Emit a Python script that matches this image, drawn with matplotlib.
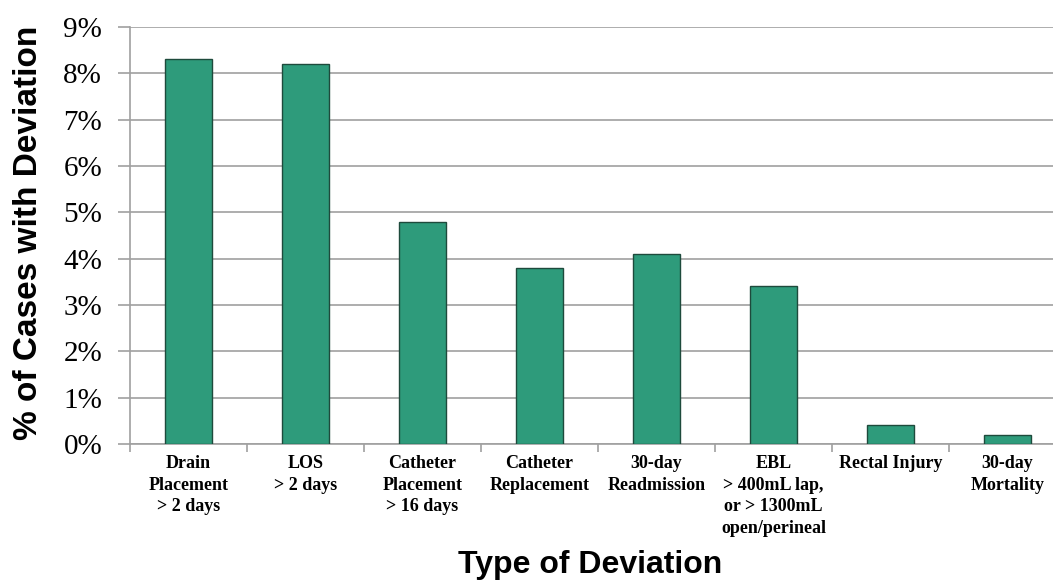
import matplotlib
matplotlib.use("Agg")
import matplotlib.pyplot as plt
from matplotlib.ticker import FuncFormatter

# data
categories = [
    "Drain\nPlacement\n> 2 days",
    "LOS\n> 2 days",
    "Catheter\nPlacement\n> 16 days",
    "Catheter\nReplacement",
    "30-day\nReadmission",
    "EBL\n> 400mL lap,\nor > 1300mL\nopen/perineal",
    "Rectal Injury",
    "30-day\nMortality",
]
values = [8.3, 8.2, 4.8, 3.8, 4.1, 3.4, 0.4, 0.2]
yticks = list(range(0, 10))

fig = plt.figure(figsize=(10.53, 5.86), dpi=100)
# axes extends a bit past the right edge, as in the cropped original
ax = fig.add_axes([130 / 1053, 1 - 444 / 586, 936 / 1053, 417 / 586])

xs = range(len(categories))
ax.bar(xs, values, width=0.4, color="#2E9B7B", edgecolor="#1E4A3C", linewidth=1, zorder=3)

ax.set_xlim(-0.5, len(categories) - 0.5)
ax.set_ylim(0, 9)
ax.set_yticks(yticks)
ax.yaxis.set_major_formatter(FuncFormatter(lambda v, p: "%d%%" % v))
ax.grid(axis="y", color="#A0A0A0", linewidth=1.2, zorder=0)

# x ticks at category boundaries, labels at centers
ax.set_xticks([i - 0.5 for i in range(len(categories) + 1)])
ax.set_xticklabels([])
ax.set_xticks(list(xs), minor=True)
ax.set_xticklabels(categories, minor=True, fontfamily="Liberation Serif",
                   fontweight="bold", fontsize=13, linespacing=1.35, va="top")
ax.tick_params(axis="x", which="minor", length=0, pad=8)
ax.tick_params(axis="x", which="major", length=6, color="#A0A0A0", width=1.2)
ax.tick_params(axis="y", length=9, color="#A0A0A0", width=1.2, pad=11)
for lab in ax.get_yticklabels():
    lab.set_fontfamily("Liberation Serif")
    lab.set_fontsize(21)

for s in ["top", "right"]:
    ax.spines[s].set_visible(False)
for s in ["left", "bottom"]:
    ax.spines[s].set_color("#A0A0A0")
    ax.spines[s].set_linewidth(1.2)

fig.text(29 / 1053, 1 - 233 / 586, "% of Cases with Deviation", rotation=90,
         ha="center", va="center", fontfamily="Liberation Sans",
         fontweight="bold", fontsize=24)
fig.text(590 / 1053, 1 - 565 / 586, "Type of Deviation", ha="center", va="center",
         fontfamily="Liberation Sans", fontweight="bold", fontsize=23)

fig.savefig("out.png", dpi=100)
